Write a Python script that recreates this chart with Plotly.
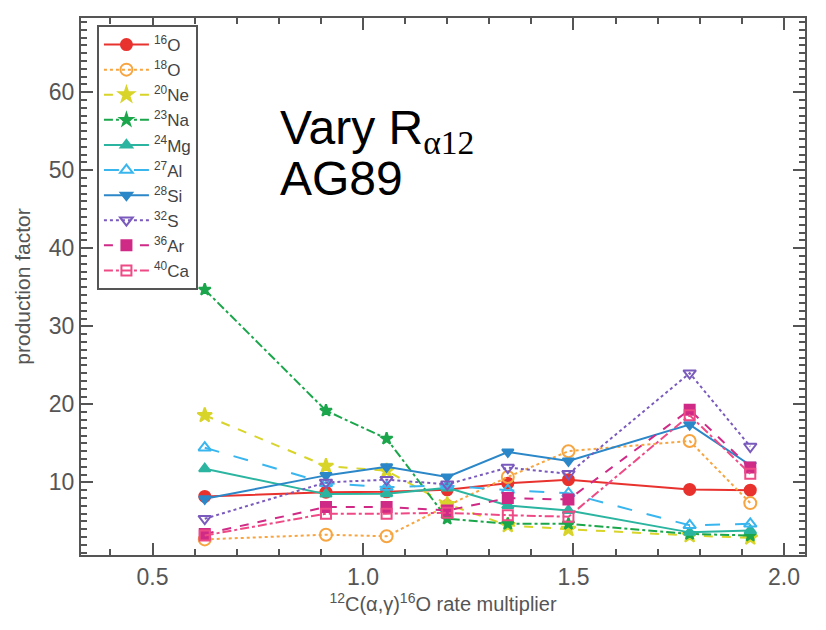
import plotly.graph_objects as go

# data
x = [0.624, 0.912, 1.056, 1.2, 1.344, 1.488, 1.776, 1.92]
names = ["<sup>16</sup>O", "<sup>18</sup>O", "<sup>20</sup>Ne", "<sup>23</sup>Na", "<sup>24</sup>Mg",
         "<sup>27</sup>Al", "<sup>28</sup>Si", "<sup>32</sup>S", "<sup>36</sup>Ar", "<sup>40</sup>Ca"]
O16 = [8.2, 8.75, 8.8, 9.05, 9.9, 10.35, 9.1, 9.0]
O18 = [2.7, 3.3, 3.1, 7.0, 10.7, 14.0, 15.3, 7.35]
Ne20 = [18.6, 12.1, 11.5, 7.2, 4.5, 4.0, 3.2, 2.9]
Na23 = [34.7, 19.2, 15.6, 5.35, 4.7, 4.7, 3.4, 3.2]
Mg24 = [11.75, 8.5, 8.55, 9.3, 7.05, 6.4, 3.6, 3.85]
Al27 = [14.45, 9.9, 9.4, 9.6, 9.0, 8.6, 4.5, 4.7]
Si28 = [7.9, 10.9, 12.0, 10.7, 13.9, 12.75, 17.4, 12.2]
S32 = [5.35, 10.0, 10.35, 9.75, 11.9, 11.1, 24.0, 14.6]
Ar36 = [3.4, 6.85, 6.85, 6.4, 8.0, 7.8, 19.3, 11.9]
Ca40 = [3.2, 6.0, 6.0, 6.1, 5.8, 5.6, 18.6, 11.1]
series = [O16, O18, Ne20, Na23, Mg24, Al27, Si28, S32, Ar36, Ca40]

colors = ["#e8322e", "#f7a541", "#d8d42a", "#1ba64b", "#2bb5a0",
          "#3ab6ef", "#2b87c8", "#7a5bbd", "#cf2a86", "#ee4a86"]
dashes = ["solid", "dot", "dash", "dashdot", "solid", "longdash", "solid", "dot", "dash", "dashdot"]
symbols = ["circle", "circle-open", "star", "star", "triangle-up", "triangle-up-open",
           "triangle-down", "triangle-down-open", "square", "square-open"]
sizes = [11, 12, 11, 9, 10, 11, 10, 11, 10, 10]

fig = go.Figure()
for nm, ys, c, d, s, sz in zip(names, series, colors, dashes, symbols, sizes):
    fig.add_trace(go.Scatter(
        x=x, y=ys, name=nm, mode="lines+markers",
        line=dict(color=c, dash=d, width=2),
        marker=dict(symbol=s, size=sz, color=c, line=dict(color=c, width=2)),
    ))

axis_common = dict(
    showline=True, linecolor="#555", linewidth=2, mirror="ticks",
    ticks="inside", tickcolor="#555", tickwidth=1.5, showgrid=False, zeroline=False,
    tickfont=dict(family="Liberation Sans", size=23, color="#555"),
)
fig.update_xaxes(range=[0.33, 2.05], tickvals=[0.5, 1.0, 1.5, 2.0],
                 ticktext=["0.5", "1.0", "1.5", "2.0"], ticklen=12,
                 minor=dict(dtick=0.1, tick0=0, ticks="inside", ticklen=6, tickcolor="#555"),
                 title=dict(text="<sup>12</sup>C(α,γ)<sup>16</sup>O rate multiplier",
                            font=dict(family="Liberation Sans", size=20, color="#555"), standoff=6),
                 **axis_common)
fig.update_yaxes(range=[0.7, 69.5], tickvals=[10, 20, 30, 40, 50, 60], ticklen=12,
                 minor=dict(dtick=1, tick0=0, ticks="inside", ticklen=6, tickcolor="#555"),
                 title=dict(text="production factor",
                            font=dict(family="Liberation Sans", size=21, color="#555"), standoff=12),
                 **axis_common)

fig.add_annotation(
    xref="paper", yref="paper", x=0.272, y=0.85, xanchor="left", yanchor="top",
    align="left", showarrow=False,
    text="Vary R<sub><span style='font-family:Liberation Serif'>α12</span></sub>",
    font=dict(family="Liberation Sans", size=48, color="#000"),
)
fig.add_annotation(
    xref="paper", yref="paper", x=0.272, y=0.755, xanchor="left", yanchor="top",
    align="left", showarrow=False,
    text="AG89",
    font=dict(family="Liberation Sans", size=48, color="#000"),
)

fig.update_layout(
    width=826, height=630,
    margin=dict(l=81, r=21, t=18, b=75),
    paper_bgcolor="white", plot_bgcolor="white",
    showlegend=True,
    legend=dict(x=0.022, y=0.987, xanchor="left", yanchor="top",
                bgcolor="white", bordercolor="#555", borderwidth=2,
                font=dict(family="Liberation Sans", size=17, color="#444"),
                itemwidth=45, tracegroupgap=0),
)
fig.write_html("out.html")
